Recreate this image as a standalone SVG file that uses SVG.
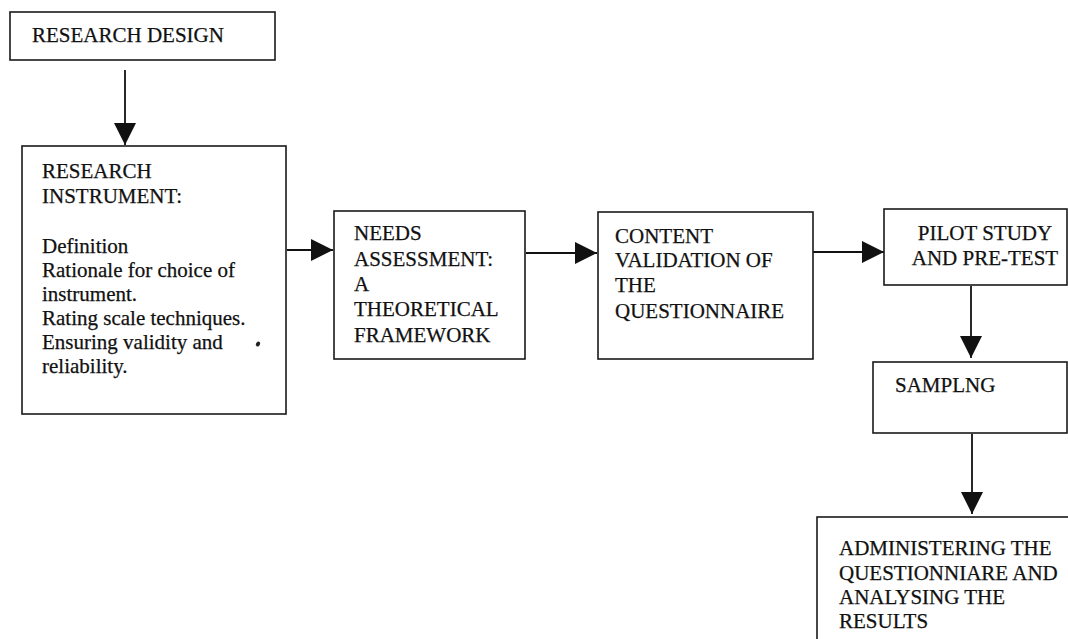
<svg xmlns="http://www.w3.org/2000/svg" width="1068" height="639" viewBox="0 0 1068 639">
<style>
.box{fill:#fff;stroke:#1a1a1a;stroke-width:1.6}
.t{font-family:"Liberation Serif","Times New Roman",serif;font-size:21px;fill:#111;stroke:#111;stroke-width:0.25}
.c{stroke:#111;stroke-width:1.8;fill:none}
</style>
<defs>
<marker id="ah" markerUnits="userSpaceOnUse" markerWidth="22" markerHeight="22" viewBox="0 0 22 22" refX="22" refY="11" orient="auto">
<path d="M0,0 L22,11 L0,22 Z" fill="#111"/>
</marker>
</defs>
<rect width="1068" height="639" fill="#fff"/>
<g id="connectors">
<line class="c" x1="125" y1="70" x2="125" y2="145" marker-end="url(#ah)"/>
<line class="c" x1="287" y1="250" x2="333" y2="250" marker-end="url(#ah)"/>
<line class="c" x1="526" y1="253" x2="597" y2="253" marker-end="url(#ah)"/>
<line class="c" x1="813" y1="252" x2="884" y2="252" marker-end="url(#ah)"/>
<line class="c" x1="971" y1="286" x2="971" y2="358" marker-end="url(#ah)"/>
<line class="c" x1="972" y1="434" x2="972" y2="514" marker-end="url(#ah)"/>
</g>
<g id="research-design">
<rect class="box" x="10" y="12" width="265" height="48"/>
<text class="t" x="32" y="42">RESEARCH DESIGN</text>
</g>
<g id="research-instrument">
<rect class="box" x="22" y="146" width="264" height="268"/>
<text class="t" x="42" y="178">RESEARCH</text>
<text class="t" x="42" y="203">INSTRUMENT:</text>
<text class="t" x="42" y="253">Definition</text>
<text class="t" x="42" y="277">Rationale for choice of</text>
<text class="t" x="42" y="301">instrument.</text>
<text class="t" x="42" y="325">Rating scale techniques.</text>
<text class="t" x="42" y="349">Ensuring validity and</text>
<text class="t" x="42" y="373">reliability.</text>
<ellipse cx="258" cy="344" rx="2" ry="2.6" transform="rotate(30 258 344)" fill="#222"/>
</g>
<g id="needs-assessment">
<rect class="box" x="334" y="211" width="191" height="148"/>
<text class="t" x="354" y="240">NEEDS</text>
<text class="t" x="354" y="266">ASSESSMENT:</text>
<text class="t" x="354" y="291">A</text>
<text class="t" x="354" y="316">THEORETICAL</text>
<text class="t" x="354" y="342">FRAMEWORK</text>
</g>
<g id="content-validation">
<rect class="box" x="598" y="212" width="215" height="147"/>
<text class="t" x="615" y="243">CONTENT</text>
<text class="t" x="615" y="267">VALIDATION OF</text>
<text class="t" x="615" y="292">THE</text>
<text class="t" x="615" y="318">QUESTIONNAIRE</text>
</g>
<g id="pilot-study">
<rect class="box" x="884" y="209" width="183" height="76"/>
<text class="t" x="985" y="240" text-anchor="middle">PILOT STUDY</text>
<text class="t" x="985" y="265" text-anchor="middle">AND PRE-TEST</text>
</g>
<g id="sampling">
<rect class="box" x="873" y="362" width="194" height="71"/>
<text class="t" x="895" y="392">SAMPLNG</text>
</g>
<g id="administering">
<rect class="box" x="817" y="517" width="260" height="140"/>
<text class="t" x="839" y="555">ADMINISTERING THE</text>
<text class="t" x="839" y="580">QUESTIONNIARE AND</text>
<text class="t" x="839" y="604">ANALYSING THE</text>
<text class="t" x="839" y="628">RESULTS</text>
</g>
</svg>
